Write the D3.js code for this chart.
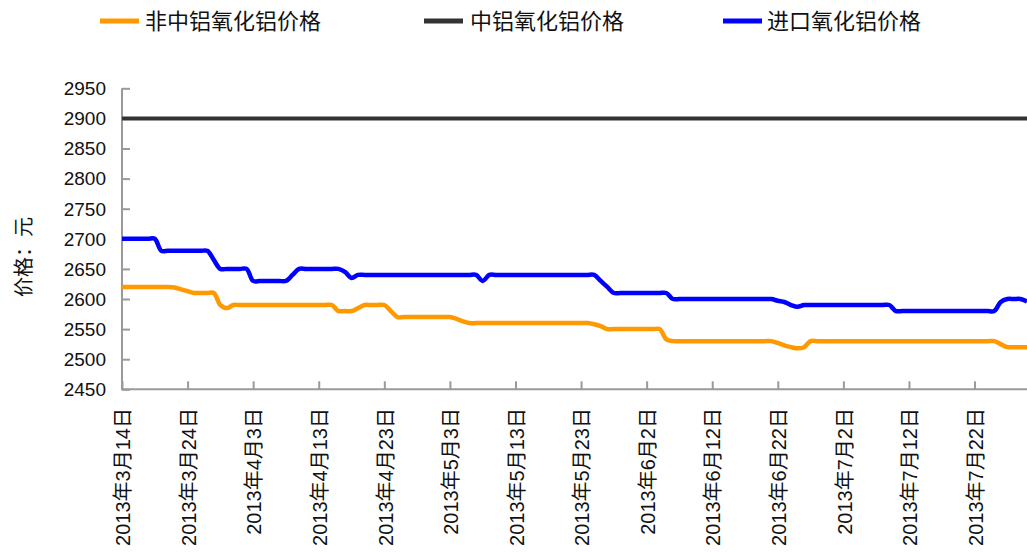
<!DOCTYPE html>
<html>
<head>
<meta charset="utf-8">
<script src="https://cdn.jsdelivr.net/npm/d3@7"></script>
<style>
  html, body { margin: 0; padding: 0; background: #fff; }
  svg { display: block; }
  text { font-family: "Liberation Sans", Arial, "Noto Sans CJK SC", sans-serif; }
  .cjk { font-family: "Noto Sans CJK SC", "Liberation Sans", sans-serif; }
</style>
</head>
<body>
<svg id="chart" width="1027" height="552"></svg>
<script>
// ---------- data ----------
const startDate = "2013-03-14";
const endDate = "2013-07-30";
const seriesNames = ["非中铝氧化铝价格", "中铝氧化铝价格", "进口氧化铝价格"];
const seriesColors = ["#FF9900", "#333333", "#0000FF"];

// 非中铝氧化铝价格 (daily, 3/14 .. 7/30)
const nonChalcoPrice = [
  2620,2620,2620,2620,2620,2620,2620,2620,2619,2616,
  2613,2610,2610,2610,2610,2590,2585,2590,2590,2590,
  2590,2590,2590,2590,2590,2590,2590,2590,2590,2590,
  2590,2590,2590,2580,2580,2580,2585,2590,2590,2590,
  2590,2580,2570,2570,2570,2570,2570,2570,2570,2570,
  2570,2567,2563,2560,2560,2560,2560,2560,2560,2560,
  2560,2560,2560,2560,2560,2560,2560,2560,2560,2560,
  2560,2560,2558,2555,2550,2550,2550,2550,2550,2550,
  2550,2550,2550,2533,2530,2530,2530,2530,2530,2530,
  2530,2530,2530,2530,2530,2530,2530,2530,2530,2530,
  2527,2523,2520,2518,2520,2530,2530,2530,2530,2530,
  2530,2530,2530,2530,2530,2530,2530,2530,2530,2530,
  2530,2530,2530,2530,2530,2530,2530,2530,2530,2530,
  2530,2530,2530,2530,2525,2520,2520,2520,2520
];

// 中铝氧化铝价格
const chalcoPrice = [
  2900,2900,2900,2900,2900,2900,2900,2900,2900,2900,
  2900,2900,2900,2900,2900,2900,2900,2900,2900,2900,
  2900,2900,2900,2900,2900,2900,2900,2900,2900,2900,
  2900,2900,2900,2900,2900,2900,2900,2900,2900,2900,
  2900,2900,2900,2900,2900,2900,2900,2900,2900,2900,
  2900,2900,2900,2900,2900,2900,2900,2900,2900,2900,
  2900,2900,2900,2900,2900,2900,2900,2900,2900,2900,
  2900,2900,2900,2900,2900,2900,2900,2900,2900,2900,
  2900,2900,2900,2900,2900,2900,2900,2900,2900,2900,
  2900,2900,2900,2900,2900,2900,2900,2900,2900,2900,
  2900,2900,2900,2900,2900,2900,2900,2900,2900,2900,
  2900,2900,2900,2900,2900,2900,2900,2900,2900,2900,
  2900,2900,2900,2900,2900,2900,2900,2900,2900,2900,
  2900,2900,2900,2900,2900,2900,2900,2900,2900
];

// 进口氧化铝价格
const importPrice = [
  2700,2700,2700,2700,2700,2700,2680,2680,2680,2680,
  2680,2680,2680,2680,2665,2650,2650,2650,2650,2650,
  2630,2630,2630,2630,2630,2630,2640,2650,2650,2650,
  2650,2650,2650,2650,2645,2635,2640,2640,2640,2640,
  2640,2640,2640,2640,2640,2640,2640,2640,2640,2640,
  2640,2640,2640,2640,2640,2630,2640,2640,2640,2640,
  2640,2640,2640,2640,2640,2640,2640,2640,2640,2640,
  2640,2640,2640,2630,2620,2610,2610,2610,2610,2610,
  2610,2610,2610,2610,2600,2600,2600,2600,2600,2600,
  2600,2600,2600,2600,2600,2600,2600,2600,2600,2600,
  2597,2595,2590,2587,2590,2590,2590,2590,2590,2590,
  2590,2590,2590,2590,2590,2590,2590,2590,2580,2580,
  2580,2580,2580,2580,2580,2580,2580,2580,2580,2580,
  2580,2580,2580,2580,2595,2600,2600,2600,2596
];

const yTicks = [2450, 2500, 2550, 2600, 2650, 2700, 2750, 2800, 2850, 2900, 2950];
const xTickLabels = ["2013年3月14日","2013年3月24日","2013年4月3日","2013年4月13日","2013年4月23日",
  "2013年5月3日","2013年5月13日","2013年5月23日","2013年6月2日","2013年6月12日",
  "2013年6月22日","2013年7月2日","2013年7月12日","2013年7月22日"];
const yAxisTitle = "价格：元";

// ---------- build ----------
(function () {
const parse = d3.timeParse("%Y-%m-%d");
const t0 = parse(startDate), t1 = parse(endDate);
const dates = d3.timeDay.range(t0, d3.timeDay.offset(t1, 1));
const tickDates = d3.timeDay.range(t0, t1, 1).filter((d, i) => i % 10 === 0);

const svg = d3.select("#chart");
const mLeft = 122, mRight = 1027, mTop = 88.3, mBottom = 389.3;

const x = d3.scaleTime().domain([t0, t1]).range([mLeft, mRight]);
const y = d3.scaleLinear().domain([2450, 2950]).range([mBottom, mTop]);

const axisColor = "#9a9a9a";

// y axis
const yAxis = d3.axisRight(y).tickValues(yTicks).tickSize(8).tickFormat("");
const gy = svg.append("g").attr("transform", `translate(${mLeft},0)`).call(yAxis);
gy.select(".domain").attr("stroke", axisColor).attr("stroke-width", 2).attr("d", `M0,${mTop}V${mBottom}`);
gy.selectAll(".tick line").attr("stroke", axisColor).attr("stroke-width", 2);

svg.append("g").selectAll("text").data(yTicks).join("text")
  .attr("x", 106).attr("y", d => y(d)).attr("dy", "0.36em")
  .attr("text-anchor", "end").attr("font-size", 19).attr("fill", "#111")
  .text(d => d);

// x axis
const xAxis = d3.axisTop(x).tickValues(tickDates).tickSize(8).tickFormat("");
const gx = svg.append("g").attr("transform", `translate(0,${mBottom})`).call(xAxis);
gx.select(".domain").attr("stroke", axisColor).attr("stroke-width", 2).attr("d", `M${mLeft - 1},0H${mRight}`);
gx.selectAll(".tick line").attr("stroke", axisColor).attr("stroke-width", 2);

svg.append("g").selectAll("text").data(tickDates).join("text")
  .attr("transform", d => `translate(${x(d) + 1},408) rotate(-90)`)
  .attr("text-anchor", "end").attr("dy", "0.36em")
  .attr("font-size", 20).attr("fill", "#111")
  .text((d, i) => xTickLabels[i]);

// y axis title
svg.append("text").attr("class", "cjk")
  .attr("transform", "translate(24,257) rotate(-90)")
  .attr("text-anchor", "middle").attr("dy", "0.36em")
  .attr("font-size", 20).attr("fill", "#111")
  .text(yAxisTitle);

// lines
const series = [nonChalcoPrice, chalcoPrice, importPrice];
const line = d3.line()
  .x((d, i) => x(dates[i]))
  .y(d => y(d))
  .curve(d3.curveCatmullRom.alpha(0.5));

svg.append("defs").append("clipPath").attr("id", "clip")
  .append("rect").attr("x", mLeft).attr("y", 0).attr("width", mRight - mLeft + 2).attr("height", 552);

const gl = svg.append("g").attr("clip-path", "url(#clip)");
[1, 0, 2].forEach(k => {
  gl.append("path").datum(series[k])
    .attr("fill", "none")
    .attr("stroke", seriesColors[k])
    .attr("stroke-width", k === 1 ? 4 : 4.5)
    .attr("stroke-linejoin", "round")
    .attr("d", line);
});

// legend
const legendPos = [{lx: 100, tx: 145}, {lx: 424, tx: 470}, {lx: 723, tx: 767}];
const lg = svg.append("g");
seriesNames.forEach((name, k) => {
  lg.append("line")
    .attr("x1", legendPos[k].lx).attr("x2", legendPos[k].lx + 39)
    .attr("y1", 21).attr("y2", 21)
    .attr("stroke", seriesColors[k]).attr("stroke-width", 5);
  lg.append("text").attr("class", "cjk")
    .attr("x", legendPos[k].tx).attr("y", 21).attr("dy", "0.36em")
    .attr("font-size", 22).attr("fill", "#111")
    .text(name);
});
})();
</script>
</body>
</html>
